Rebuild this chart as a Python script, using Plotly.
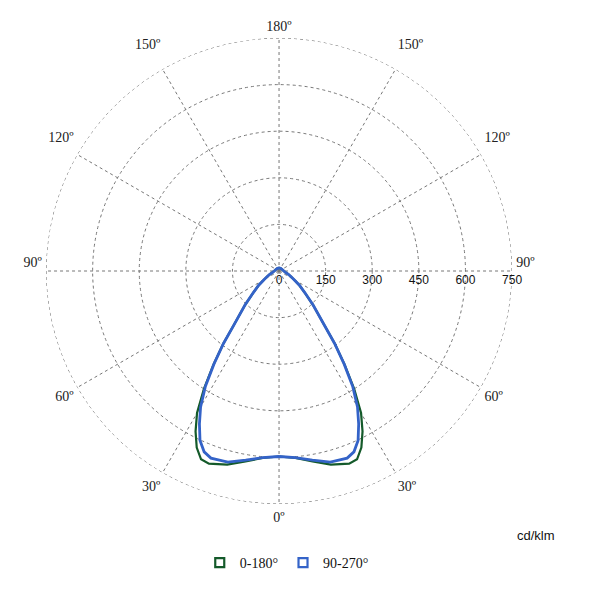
import plotly.graph_objects as go

# gamma angles (deg from nadir) and intensities (cd/klm) per C-plane
gamma = [0, 5, 10, 15, 20, 22.5, 25, 27.5, 30, 32.5, 35, 37.5, 40, 45, 50,
         55, 60, 65, 70, 75, 80, 85, 90, 100, 120, 150, 180]
c0_180 = [597, 604, 622, 645, 660, 656, 627, 582, 528, 450, 368, 295, 225, 155, 108,
          80, 56, 42, 32, 25, 20, 17, 15, 13, 11, 10, 10]
c90_270 = [597, 603, 618, 637, 641, 630, 602, 555, 505, 442, 365, 293, 225, 155, 108,
           80, 56, 42, 32, 25, 20, 17, 15, 13, 11, 10, 10]

angle_ticks = [0, 30, 60, 90, 120, 150, 180, 210, 240, 270, 300, 330]
upper = '<br>\u00a0'  # blank second line lifts the label above its spoke
angle_labels = ['0º', '30º', '60º', '90º' + upper, '120º' + upper, '150º' + upper, '180º',
                '150º' + upper, '120º' + upper, '90º' + upper, '60º', '30º']
radial_ticks = [0, 150, 300, 450, 600, 750]
outer_ring = list(range(0, 361, 2))

def full_curve(values):
    """Mirror a half-plane curve onto both sides of the nadir"""
    theta = gamma + [360 - g for g in reversed(gamma)]
    r = values + list(reversed(values))
    return r, theta

fig = go.Figure()

# dotted outer boundary at the top of the radial range
fig.add_trace(go.Scatterpolar(
    r=[radial_ticks[-1]] * len(outer_ring), theta=outer_ring, mode='lines',
    showlegend=False, hoverinfo='skip',
    line=dict(color='#666', width=1, dash='dot')
))

series = [('0-180°', c0_180, '#145a2a', 2.2),
          ('90-270°', c90_270, '#3463c8', 2.8)]

for name, vals, color, width in series:
    r, theta = full_curve(vals)
    fig.add_trace(go.Scatterpolar(
        r=r, theta=theta, mode='lines', showlegend=False,
        line=dict(color=color, width=width), name=name
    ))

# legend entries as hollow squares
for name, vals, color, width in series:
    fig.add_trace(go.Scatterpolar(
        r=[None], theta=[None], mode='markers', name=name,
        marker=dict(symbol='square-open', size=9, color=color,
                    line=dict(color=color, width=2.2))
    ))

fig.add_annotation(
    text='cd/klm', x=0.895, y=0.105, xref='paper', yref='paper', xanchor='center',
    showarrow=False, font=dict(family='Liberation Sans, Arial', size=13, color='#111')
)

fig.update_layout(
    width=590, height=600,
    margin=dict(l=0, r=0, t=0, b=0),
    paper_bgcolor='white',
    polar=dict(
        domain=dict(x=[0.0644, 0.8544], y=[0.1733, 0.95]),
        bgcolor='white',
        angularaxis=dict(
            rotation=-90, direction='counterclockwise',
            tickmode='array', tickvals=angle_ticks, ticktext=angle_labels,
            tickfont=dict(family='Liberation Serif, Times New Roman', size=14, color='#222'),
            showline=False, ticks='outside', ticklen=1, tickcolor='rgba(0,0,0,0)',
            gridcolor='#777', griddash='dot', gridwidth=1
        ),
        radialaxis=dict(
            range=[0, 750], angle=0, side='clockwise',
            tickmode='array', tickvals=radial_ticks,
            tickfont=dict(family='Liberation Sans, Arial', size=12, color='#111'),
            showline=False, ticks='',
            gridcolor='#777', griddash='dot', gridwidth=1
        )
    ),
    legend=dict(
        orientation='h', x=0.325, xanchor='left', y=0.075, yanchor='middle',
        font=dict(family='Liberation Serif, Times New Roman', size=14, color='#111'),
        itemwidth=30
    )
)

fig.write_html("out.html")
